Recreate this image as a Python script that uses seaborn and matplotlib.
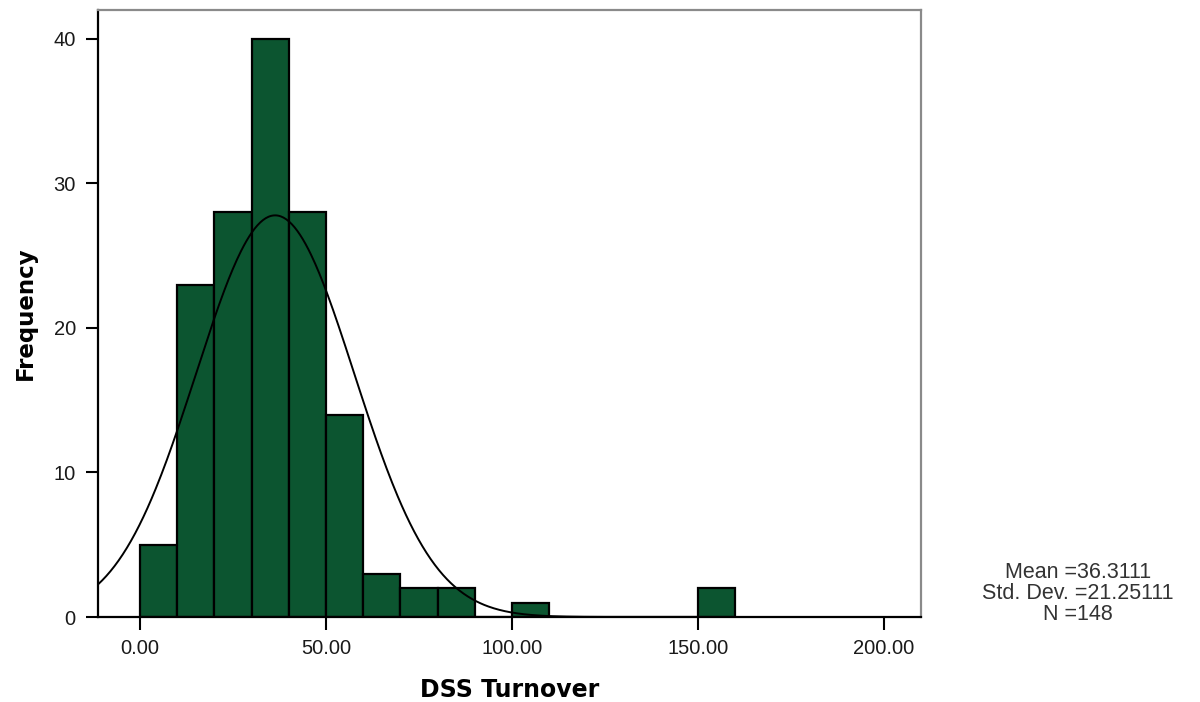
import numpy as np
import pandas as pd
import matplotlib
matplotlib.use("Agg")
import matplotlib.pyplot as plt
import seaborn as sns

# Histogram of DSS Turnover: bin edges and frequencies
bin_edges = [0, 10, 20, 30, 40, 50, 60, 70, 80, 90, 100, 110, 120, 130, 140, 150, 160]
frequencies = [5, 23, 28, 40, 28, 14, 3, 2, 2, 0, 1, 0, 0, 0, 0, 2]

# Summary statistics
mean_value = 36.3111
std_value = 21.25111
n_cases = 148

x_ticks = [0, 50, 100, 150, 200]
y_ticks = [0, 10, 20, 30, 40]

sns.set_style("white")
plt.rcParams["font.family"] = ["Liberation Sans", "DejaVu Sans"]

fig = plt.figure(figsize=(12, 7.02), dpi=100)
ax = fig.add_axes([0.0817, 0.121, 0.686, 0.865])

mids = [(bin_edges[i] + bin_edges[i + 1]) / 2 for i in range(len(frequencies))]
df = pd.DataFrame({"DSS Turnover": mids, "count": frequencies})

sns.histplot(data=df, x="DSS Turnover", weights="count", bins=bin_edges,
             color="#0c5530", alpha=1.0, edgecolor="black", linewidth=1.6, ax=ax)

# Normal curve scaled to counts
bin_width = bin_edges[1] - bin_edges[0]
xs = np.linspace(-11.3, 210, 600)
ys = n_cases * bin_width * np.exp(-0.5 * ((xs - mean_value) / std_value) ** 2) / (std_value * np.sqrt(2 * np.pi))
sns.lineplot(x=xs, y=ys, color="black", linewidth=1.4, ax=ax)

ax.set_xlim(-11.3, 210)
ax.set_ylim(0, 42)
ax.set_xticks(x_ticks)
ax.set_xticklabels([f"{v:.2f}" for v in x_ticks])
ax.set_yticks(y_ticks)

ax.tick_params(axis="both", direction="out", length=9, width=1.5, color="black",
               labelsize=14.5, labelcolor="#1a1a1a", pad=7,
               bottom=True, left=True, top=False, right=False)

for side in ("left", "bottom"):
    ax.spines[side].set_color("black")
    ax.spines[side].set_linewidth(1.6)
for side in ("top", "right"):
    ax.spines[side].set_color("#8a8a8a")
    ax.spines[side].set_linewidth(1.6)

ax.set_xlabel("DSS Turnover", fontsize=17, fontweight="bold", labelpad=14,
              family=["DejaVu Sans"], color="black")
ax.set_ylabel("Frequency", fontsize=16.5, fontweight="bold", labelpad=12,
              family=["DejaVu Sans"], color="black")

stats_text = f"Mean ={mean_value:.4f}\nStd. Dev. ={std_value:.5f}\nN ={n_cases}"
fig.text(0.8985, 0.154, stats_text, ha="center", va="center", fontsize=15.5,
         color="#333333", linespacing=1.0)

fig.savefig("out.png", dpi=100, facecolor="white")
